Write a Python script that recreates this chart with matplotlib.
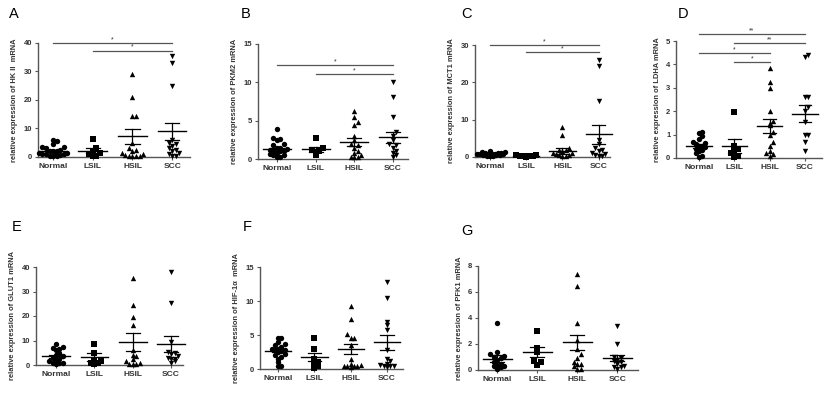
import matplotlib

matplotlib.use("Agg")
import matplotlib.pyplot as plt  # noqa: E402
import numpy as np  # noqa: E402

plt.rcParams["font.family"] = ["Liberation Sans", "DejaVu Sans"]

W, H = 824, 393
GROUPS = ["Normal", "LSIL", "HSIL", "SCC"]
MARKERS = ["o", "s", "^", "v"]
AXC = "#555555"

# values, per group: Normal, LSIL, HSIL, SCC
hk2 = [[6.0, 5.5, 4.5, 3.5, 3.0, 2.5, 2.0, 2.0, 1.5, 1.5, 1.2, 1.0, 1.0, 0.8, 0.5, 0.5, 0.3, 3.5, 2.2, 1.8],
       [6.2, 3.0, 2.0, 1.5, 1.0, 0.5, 0.5],
       [29.2, 20.9, 14.5, 14.5, 4.9, 3.0, 2.5, 2.0, 1.5, 1.0, 0.8, 0.5, 0.3, 0.2, 0.5],
       [35.3, 33.0, 25.0, 6.0, 5.0, 4.5, 4.0, 3.0, 2.5, 2.0, 1.5, 1.0, 0.5, 0.5]]
hk2_mean = [2.0, 2.2, 7.3, 9.1]
hk2_sem = [0.4, 0.8, 2.6, 3.0]

pkm2 = [[3.9, 2.8, 2.6, 2.5, 2.0, 1.8, 1.5, 1.3, 1.2, 1.0, 1.0, 0.8, 0.7, 0.5, 0.5, 0.3, 0.2, 1.5, 1.1],
        [2.7, 1.4, 1.2, 1.0, 0.8, 0.5],
        [6.2, 5.5, 4.8, 4.5, 3.0, 2.5, 2.0, 1.8, 1.5, 1.0, 0.8, 0.5, 0.3, 0.2, 0.2],
        [10.0, 8.1, 5.5, 3.5, 3.0, 2.5, 2.0, 1.8, 1.5, 1.0, 0.8, 0.5, 0.3]]
pkm2_mean = [1.3, 1.25, 2.2, 2.85]
pkm2_sem = [0.2, 0.3, 0.5, 0.7]

mct1 = [[1.5, 1.4, 1.3, 1.2, 1.1, 1.0, 0.9, 0.9, 0.8, 0.8, 0.7, 0.7, 0.6, 0.5, 0.5, 0.4, 0.3, 0.3],
        [0.5, 0.45, 0.4, 0.3, 0.2, 0.15, 0.1],
        [8.0, 6.0, 2.5, 2.0, 1.8, 1.5, 1.2, 1.0, 0.8, 0.5, 0.5, 0.3, 0.2],
        [26.0, 24.4, 14.9, 4.5, 3.5, 2.5, 2.0, 1.5, 1.0, 0.8, 0.5, 0.3, 0.3]]
mct1_mean = [0.8, 0.3, 1.6, 6.1]
mct1_sem = [0.1, 0.06, 0.7, 2.6]

ldha = [[1.1, 1.05, 0.95, 0.8, 0.7, 0.65, 0.6, 0.5, 0.5, 0.45, 0.4, 0.35, 0.3, 0.2, 0.1, 0.05],
        [1.96, 0.5, 0.4, 0.3, 0.2, 0.1, 0.05],
        [3.84, 3.24, 2.99, 2.0, 1.6, 1.5, 1.4, 1.1, 1.0, 0.7, 0.5, 0.3, 0.2, 0.1, 0.15],
        [4.4, 4.3, 2.6, 2.6, 2.2, 2.0, 1.55, 1.0, 1.0, 0.7, 0.3]]
ldha_mean = [0.51, 0.5, 1.37, 1.9]
ldha_sem = [0.07, 0.3, 0.29, 0.37]

glut1 = [[8.5, 7.5, 7.0, 6.5, 6.0, 5.0, 4.0, 3.5, 3.0, 2.5, 2.0, 1.5, 1.0, 1.0, 0.8, 0.5],
         [8.6, 5.0, 2.0, 1.5, 1.0, 0.8, 0.5],
         [35.5, 24.3, 19.6, 16.2, 6.0, 4.0, 3.5, 2.5, 1.5, 1.0, 0.5, 0.5, 0.5],
         [38.0, 25.5, 9.5, 5.5, 5.0, 4.5, 3.5, 3.0, 2.5, 2.5, 1.5, 1.0]]
glut1_mean = [3.5, 3.3, 9.4, 8.6]
glut1_sem = [0.6, 1.6, 3.6, 3.3]

hif1a = [[4.6, 4.6, 4.0, 3.7, 3.5, 3.2, 3.0, 2.8, 2.8, 2.6, 2.5, 2.2, 2.0, 1.8, 1.5, 1.0, 0.5, 0.5, 2.9],
         [4.6, 3.0, 1.5, 1.0, 0.8, 0.5, 0.2],
         [9.2, 7.4, 5.2, 4.6, 4.6, 3.5, 1.5, 0.8, 0.6, 0.5, 0.4, 0.3, 0.4, 0.5],
         [12.8, 10.4, 6.9, 6.5, 5.8, 2.8, 1.5, 1.2, 0.8, 0.5, 0.4, 0.3, 0.6, 0.5]]
hif1a_mean = [2.7, 1.72, 2.95, 3.9]
hif1a_sem = [0.27, 0.6, 0.75, 1.1]

pfk1 = [[3.6, 1.4, 1.2, 1.1, 1.0, 0.9, 0.8, 0.6, 0.5, 0.4, 0.3, 0.2, 0.1, 0.3],
        [3.0, 1.7, 1.4, 0.7, 0.6, 0.4],
        [7.4, 6.5, 3.6, 2.3, 1.6, 1.2, 0.9, 0.6, 0.5, 0.3, 0.5, 0.1, 0.1],
        [3.4, 2.0, 1.0, 0.9, 0.8, 0.7, 0.6, 0.5, 0.3, 0.2, 0.2, 0.1]]
pfk1_mean = [0.87, 1.38, 2.13, 0.9]
pfk1_sem = [0.25, 0.4, 0.6, 0.22]

# significance brackets: (group i, group j, height, label)
hk2_sig = [(0, 3, 40, "*"), (1, 3, 37.3, "*")]
pkm2_sig = [(0, 3, 12.2, "*"), (1, 3, 11.05, "*")]
mct1_sig = [(0, 3, 30, "*"), (1, 3, 28, "*")]
ldha_sig = [(0, 3, 5.29, "**"), (1, 3, 4.91, "**"), (0, 2, 4.47, "*"), (1, 2, 4.09, "*")]

# panel layout in pixels: letter pos, axes box (left, right, top, bottom), xlim, ylim/ticks
panels = [
    ("A", hk2, hk2_mean, hk2_sem, hk2_sig, "relative expression of HK II  mRNA",
     (14, 14), (38, 190, 43, 157), (-0.38, 3.45), 40, [0, 10, 20, 30, 40]),
    ("B", pkm2, pkm2_mean, pkm2_sem, pkm2_sig, "relative expression of PKM2 mRNA",
     (246, 14), (258, 408, 44, 159), (-0.49, 3.39), 15, [0, 5, 10, 15]),
    ("C", mct1, mct1_mean, mct1_sem, mct1_sig, "relative expression of MCT1 mRNA",
     (467, 14), (475, 610, 45, 157), (-0.41, 3.31), 30, [0, 10, 20, 30]),
    ("D", ldha, ldha_mean, ldha_sem, ldha_sig, "relative expression of LDHA mRNA",
     (683, 14), (676, 822, 41, 158), (-0.65, 3.48), 5, [0, 1, 2, 3, 4, 5]),
    ("E", glut1, glut1_mean, glut1_sem, [], "relative expression of GLUT1 mRNA",
     (17, 227), (36, 183, 267, 365), (-0.52, 3.31), 40, [0, 10, 20, 30, 40]),
    ("F", hif1a, hif1a_mean, hif1a_sem, [], "relative expression of HIF-1\u03b1  mRNA",
     (247, 227), (260, 403, 267, 369), (-0.5, 3.44), 15, [0, 5, 10, 15]),
    ("G", pfk1, pfk1_mean, pfk1_sem, [], "relative expression of PFK1 mRNA",
     (467, 231), (478, 638, 266, 370), (-0.48, 3.52), 8, [0, 2, 4, 6, 8]),
]


def swarm_offsets(vals, ymax, step=0.09, per_row=9):
    # spread points with similar values side by side (prism style), wrapping wide rows
    vals = np.asarray(vals, dtype=float)
    bins = np.floor(vals / (ymax * 0.05)).astype(int)
    offs = np.zeros(len(vals))
    counts = {}
    for k in np.argsort(vals):
        n = counts.get(bins[k], 0)
        counts[bins[k]] = n + 1
        row, pos = divmod(n, per_row)
        o = ((pos + 1) // 2) * step * (1 if pos % 2 else -1)
        offs[k] = o + (step / 2 if row % 2 else 0)
    return offs


fig = plt.figure(figsize=(W / 100, H / 100), dpi=100)

for letter, data, means, sems, sig, ylabel, lpos, box, xlim, ymax, yticks in panels:
    l, r, t, b = box
    ax = fig.add_axes([l / W, 1 - b / H, (r - l) / W, (b - t) / H])
    for i, vals in enumerate(data):
        x = i + swarm_offsets(vals, ymax)
        ax.scatter(x, vals, marker=MARKERS[i], s=15, color="black", linewidths=0, clip_on=False, zorder=3)
        m, s = means[i], sems[i]
        ax.plot([i - 0.36, i + 0.36], [m, m], color="black", lw=1.0, clip_on=False, zorder=4)
        ax.plot([i - 0.18, i + 0.18], [m + s, m + s], color="black", lw=0.9, clip_on=False, zorder=4)
        ax.plot([i - 0.18, i + 0.18], [m - s, m - s], color="black", lw=0.9, clip_on=False, zorder=4)
        ax.plot([i, i], [m - s, m + s], color="black", lw=0.9, clip_on=False, zorder=4)
    for i, j, y, lab in sig:
        ax.plot([i, j], [y, y], color=AXC, lw=0.9, clip_on=False)
        ax.text((i + j) / 2, y, lab, ha="center", va="bottom", fontsize=5, color="#333333")
    ax.set_xlim(*xlim)
    ax.set_ylim(0, ymax)
    ax.set_xticks(range(4))
    ax.set_xticklabels(GROUPS, fontsize=6, fontweight="bold", color="#333333")
    ax.set_yticks(yticks)
    ax.set_yticklabels([str(v) for v in yticks], fontsize=5.5, fontweight="bold", color="#333333")
    ax.tick_params(length=2.5, width=0.8, color=AXC, pad=1.5)
    for sp in ("top", "right"):
        ax.spines[sp].set_visible(False)
    for sp in ("left", "bottom"):
        ax.spines[sp].set_color(AXC)
        ax.spines[sp].set_linewidth(1.0)
    ax.set_ylabel(ylabel, fontsize=5.4, fontweight="bold", color="#333333", labelpad=4)
    fig.text(lpos[0] / W, 1 - lpos[1] / H, letter, fontsize=10.5, ha="center", va="center")

fig.savefig("out.png", dpi=100)
